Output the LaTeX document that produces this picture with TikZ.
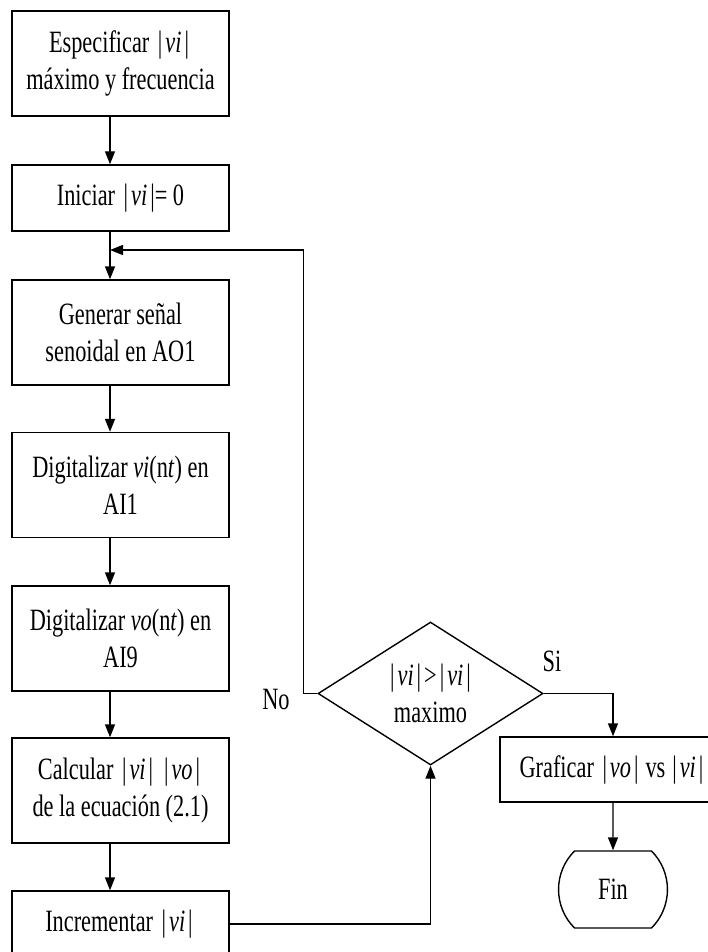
\documentclass[tikz,border=0pt]{standalone}
\usepackage{fontspec}
\setmainfont{Liberation Serif}[FakeStretch=0.72]
\usetikzlibrary{shapes.geometric,shapes.misc,arrows.meta}

% magnitude with tall bars
\newcommand{\mg}[1]{\kern3pt\textbar\kern3pt\textit{#1}\kern3pt\textbar\kern3pt}

\tikzset{
  proc/.style={draw, minimum width=217pt, align=center, inner sep=2pt},
  tall/.style={proc, minimum height=105pt},
  short/.style={proc, minimum height=66pt},
  decis/.style={draw, diamond, aspect=1.56, inner sep=0pt, align=center,
    minimum width=225pt, minimum height=143pt},
  term/.style={draw, rounded rectangle, rounded rectangle arc length=90,
    minimum width=100pt, minimum height=77pt},
  arr/.style={->}
}

\begin{document}
\begin{tikzpicture}[x=1pt, y=-1pt, line width=1.4pt,
  font=\fontsize{31}{37}\selectfont,
  >={Triangle[length=13pt,width=10pt]}]
\useasboundingbox (0,0) rectangle (708,952);
\clip (0,0) rectangle (708,952);

\node[tall] (espec) at (120.5,63.5) {Especificar \mg{vi}\\m\'aximo y frecuencia};
\node[short] (inic) at (120.5,198) {Iniciar \mg{vi}\kern-3pt= 0};
\node[tall] (gener) at (120.5,332.5) {Generar se\~nal\\senoidal en AO1};
\node[tall] (digvi) at (120.5,485) {Digitalizar \textit{vi}(n\textit{t}) en\\AI1};
\node[tall] (digvo) at (120.5,638.5) {Digitalizar \textit{vo}(n\textit{t}) en\\AI9};
\node[tall] (calc) at (120.5,790.5) {Calcular \mg{vi}\kern5pt\mg{vo}\\de la ecuaci\'on (2.1)};
\node[short] (incr) at (120.5,924) {Incrementar \mg{vi}};

\node[decis] (cond) at (430.5,693.5) {\mg{vi}>\mg{vi}\\maximo};
\node[proc, minimum width=226pt, minimum height=65pt] (graf) at (613,769.5)
  {Graficar \mg{vo}\kern4pt vs\kern4pt\mg{vi}};
\node[term] (fin) at (613,889.5) {Fin};

\node (no) at (276,699) {No};
\node (si) at (552,661) {Si};

\coordinate (spine) at (110,0);
\coordinate (join) at (110,250);

\draw[arr] (espec.south -| spine) -- (inic.north -| spine);
\draw (inic.south -| spine) -- (join);
\draw[arr] (join) -- (gener.north -| spine);
\draw[arr] (gener.south -| spine) -- (digvi.north -| spine);
\draw[arr] (digvi.south -| spine) -- (digvo.north -| spine);
\draw[arr] (digvo.south -| spine) -- (calc.north -| spine);
\draw[arr] (calc.south -| spine) -- (incr.north -| spine);

\draw[arr] (incr.east) -| (cond.south);
\draw[arr] (cond.west) -- ++(-14,0) |- (join);
\draw[arr] (cond.east) -| (graf.north);
\draw[arr] (graf) -- (fin);
\end{tikzpicture}
\end{document}
